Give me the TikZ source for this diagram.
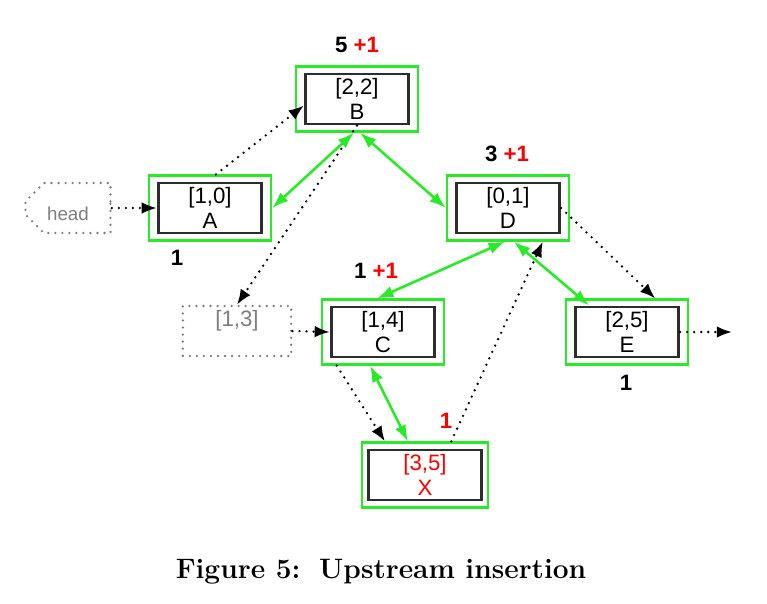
\documentclass[tikz,border=0pt]{standalone}
\usepackage{fontspec}
\newfontfamily\diagfont{Liberation Sans}
\usetikzlibrary{arrows.meta,shapes.misc}
\definecolor{boxgreen}{RGB}{40,235,40}
\definecolor{boxline}{RGB}{45,45,45}
\definecolor{ghost}{RGB}{125,125,125}
\tikzset{
  outer/.style={draw=boxgreen, line width=1.9pt, minimum width=3.66cm, minimum height=1.95cm},
  inner/.style={draw=boxline, line width=2.5pt, minimum width=3.1cm, minimum height=1.5cm,
    align=center, inner sep=0pt, font=\diagfont\fontsize{19}{22}\selectfont},
  ghostbox/.style={draw=ghost, line width=2.2pt, line cap=round, dash pattern=on 0pt off 6pt,
    text=ghost, align=center, inner sep=0pt, font=\diagfont\fontsize{19}{22}\selectfont},
  link/.style={boxgreen, line width=2.2pt, {Latex[length=14pt,width=10pt]}-{Latex[length=14pt,width=10pt]}},
  ptr/.style={black, line width=2.2pt, line cap=round, dash pattern=on 0pt off 6pt,
    -{Latex[length=13pt,width=10pt]}},
  count/.style={font=\diagfont\bfseries\fontsize{19}{22}\selectfont}
}
\begin{document}
\begin{tikzpicture}[x=0.03cm, y=-0.03cm]
\useasboundingbox (0,0) rectangle (767,603);
\node[outer] (B) at (357,99) {};
\node[inner] (b) at (357,99) {[2,2]\\B};
\node[outer] (A) at (210,208) {};
\node[inner] (a) at (210,208) {[1,0]\\A};
\node[outer] (D) at (508,208) {};
\node[inner] (d) at (508,208) {[0,1]\\D};
\node[outer] (C) at (383,332) {};
\node[inner] (c) at (383,332) {[1,4]\\C};
\node[outer] (E) at (627,332) {};
\node[inner] (e) at (627,332) {[2,5]\\E};
\node[outer, minimum width=3.8cm] (X) at (425,475) {};
\node[inner, minimum width=3.4cm, text=red] (x) at (425,475) {[3,5]\\X};
\node[ghostbox, chamfered rectangle, chamfered rectangle corners={north west,south west},
  chamfered rectangle xsep=0.45cm, chamfered rectangle ysep=0.55cm,
  minimum width=2.55cm, minimum height=1.5cm,
  font=\diagfont\fontsize{16}{19}\selectfont] (head) at (68,208) {\raisebox{-11pt}[0pt][0pt]{head}};
\node[ghostbox, rectangle, minimum width=3.25cm, minimum height=1.5cm] (old) at (237,331) {[1,3]\\\phantom{C}};
\coordinate (tail) at (732,332);

\node[count] (nB) at (357,45) {5 \textcolor{red}{+1}};
\node[count] (nA) at (177,258) {1};
\node[count] (nD) at (507,154) {3 \textcolor{red}{+1}};
\node[count] (nC) at (376,271) {1 \textcolor{red}{+1}};
\node[count] (nE) at (626,383) {1};
\node[count, text=red] (nX) at (446,421) {1};

\draw[ptr] (head.east) -- (a.west);
\draw[ptr] (A.80) -- (b.187);
\draw[ptr] (b.south) -- (old.north);
\draw[ptr] (old.east) -- (c.west);
\draw[ptr] (d.east) -- (E.50);
\draw[ptr] (C.-144) -- (X.140);
\draw[ptr] (X.52) -- (D.-44);
\draw[ptr] (e.east) -- (tail);
\draw[link] (B.-95) -- (A.east);
\draw[link] (B.-85) -- (D.west);
\draw[link] (D.-95) -- (C.100);
\draw[link] (D.-80) -- (e.145);
\draw[link] (C.-111) -- (X.117);

\node[font=\bfseries\fontsize{24}{28}\selectfont] (cap) at (381,572) {Figure 5:\, Upstream insertion};
\end{tikzpicture}
\end{document}
